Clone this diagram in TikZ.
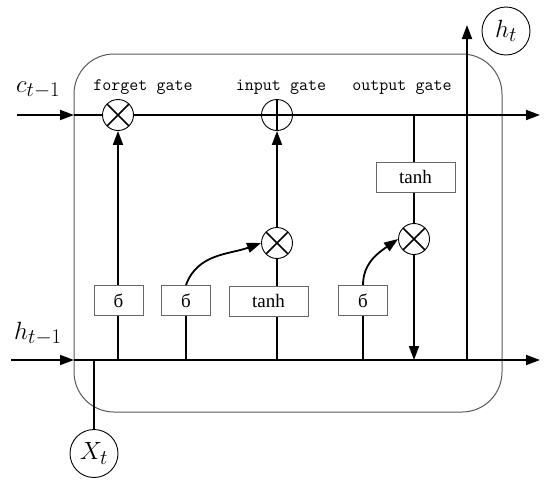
\RequirePackage{fix-cm}
\documentclass[tikz,border=0pt]{standalone}
\usepackage{fontspec}
\setmainfont{Liberation Serif}
\usetikzlibrary{arrows.meta}
\begin{document}
\begin{tikzpicture}[x=1pt,y=-1pt,
  line/.style={line width=1.8pt, black},
  arr/.style={line, -{Triangle[length=14pt,width=10pt]}},
  mult/.style={circle, draw, line width=0.9pt, minimum size=31pt, inner sep=0pt,
    path picture={\draw[line width=1.6pt] (path picture bounding box.north west) -- (path picture bounding box.south east)
      (path picture bounding box.north east) -- (path picture bounding box.south west);}},
  addc/.style={circle, draw, line width=0.9pt, minimum size=31pt, inner sep=0pt,
    path picture={\draw[line width=1.6pt] (path picture bounding box.north) -- (path picture bounding box.south)
      (path picture bounding box.west) -- (path picture bounding box.east);}},
  gbox/.style={draw=gray!80!black, line width=1pt, minimum width=49pt, minimum height=30pt, inner sep=0pt,
    font=\fontsize{19}{22}\selectfont},
  tbox/.style={gbox, minimum width=79pt},
  glabel/.style={anchor=base, inner sep=0pt, font=\ttfamily\fontsize{17.5}{20}\selectfont},
  mlabel/.style={anchor=base west, inner sep=0pt, font=\fontsize{24.88}{28}\selectfont},
  var/.style={circle, draw, line width=0.9pt, minimum size=48pt, inner sep=0pt, font=\fontsize{24.88}{28}\selectfont}
]
\useasboundingbox (0,0) rectangle (550,485);

% cell boundary
\draw[draw=black!65, line width=1pt, rounded corners=40pt] (74,54) rectangle (502,412);

% coordinates
\coordinate (cin) at (17,115);
\coordinate (cbox) at (74,115);
\coordinate (cend) at (540,115);
\coordinate (hin) at (11,360);
\coordinate (hbox) at (74,360);
\coordinate (hend) at (540,360);

% gates
\node[mult] (F) at (118,115) {};
\node[addc] (I) at (277,115) {};
\node[mult] (M1) at (277,243) {};
\node[mult] (M2) at (414,239) {};

% boxes
\node[gbox] (b1) at (118.5,300.5) {б};
\node[gbox] (b2) at (186,300.5) {б};
\node[tbox] (t1) at (268.5,301) {tanh};
\node[gbox] (b4) at (363,300.5) {б};
\node[tbox] (t2) at (415.5,177) {tanh};

% labels
\node[glabel] (lf) at (143,90) {forget gate};
\node[glabel] (li) at (281,90) {input gate};
\node[glabel] (lo) at (402,90) {output gate};
\node[mlabel] (lc) at (16,92) {$c_{t-1}$};
\node[mlabel] (lh) at (14,339) {$h_{t-1}$};

\node[var] (X) at (94,453.5) {$X_t$};
\node[var] (H) at (506,31) {$h_t$};

% cell state line
\draw[arr] (cin) -- (cbox);
\draw[line] (cbox) -- (F.west);
\draw[line] (F.east) -- (I.west);
\draw[arr] (I.east) -- (cend);
\coordinate (cout) at (414,115);

% hidden line
\draw[arr] (hin) -- (hbox);
\draw[arr] (hbox) -- (hend);
\draw[line] (X.north) -- (X.north |- hbox);

% forget gate
\draw[line] (F.south |- hbox) -- (F.south |- b1.south);
\draw[arr] (F.south |- b1.north) -- (F.south);

% input gate
\draw[line] (b2.south |- hbox) -- (b2.south);
\draw[arr] (b2.north) to[out=70,in=200] (M1.west);
\draw[line] (M1.south |- hbox) -- (M1.south |- t1.south);
\draw[line] (M1.south |- t1.north) -- (M1.south);
\draw[arr] (M1.north) -- (I.south);

% output gate
\draw[line] (cout) -- (cout |- t2.north);
\draw[line] (cout |- t2.south) -- (M2.north);
\draw[line] (b4.south |- hbox) -- (b4.south);
\draw[arr] (b4.north) to[out=90,in=215] (M2.west);
\draw[arr] (M2.south) -- (M2.south |- hbox);

% output h_t
\coordinate (hup) at (467,360);
\coordinate (htop) at (467,25);
\draw[arr] (hup) -- (htop);
\end{tikzpicture}
\end{document}
